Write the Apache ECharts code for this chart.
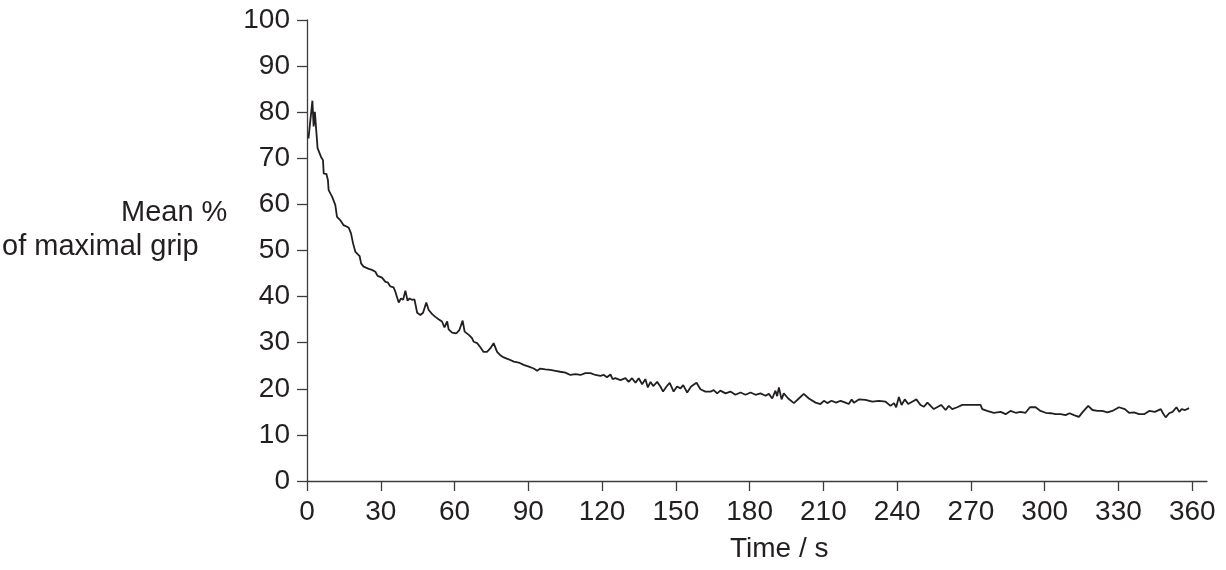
<!DOCTYPE html>
<html>
<head>
<meta charset="utf-8">
<script src="https://cdn.jsdelivr.net/npm/echarts@6/dist/echarts.min.js"></script>
<style>
html,body{margin:0;padding:0;background:#fff;}
#chart{width:1226px;height:570px;}
</style>
</head>
<body>
<div id="chart"></div>
<script>
const timeSec = [0.6,2.2,2.7,3.2,3.7,4.3,5.1,5.7,6.5,6.8,7.9,8.5,8.8,10.2,11.5,12.2,13.5,14.9,16.9,17.9,18.7,19.7,20.3,21.4,22.0,23.0,25.1,26.4,27.8,28.7,30.5,31.9,32.8,33.9,35.2,35.9,37.3,38.2,39.1,40.0,40.9,41.7,42.7,43.7,44.8,46.1,47.2,48.5,49.5,50.9,52.2,53.5,54.9,55.9,57.0,57.6,59.0,60.7,
62.0,63.3,64.1,65.8,67.1,67.8,69.2,70.5,71.8,73.2,74.6,75.9,77.3,78.6,80.0,82.0,84.1,86.1,88.1,90.2,92.2,93.6,94.9,96.9,99.0,101.0,103.0,105.1,107.1,109.2,111.2,113.2,115.3,117.3,119.3,120.7,122.0,123.4,124.3,
125.4,127.5,129.5,130.8,132.2,133.6,134.9,136.3,137.6,138.6,139.7,140.8,142.4,143.7,144.8,146.2,147.5,149.1,150.5,151.9,153.0,154.6,156.2,158.4,160.0,162.0,164.1,165.4,166.8,168.1,170.2,172.2,174.2,176.3,178.3,180.4,182.4,184.4,186.5,
187.8,189.2,190.5,191.2,191.9,193.0,193.9,195.7,198.0,200.0,202.0,204.1,206.8,208.8,210.2,211.6,213.3,215.2,217.0,219.0,220.3,221.5,222.4,224.4,227.1,229.9,232.6,235.3,237.3,238.7,239.6,240.7,241.8,243.1,244.5,246.1,247.8,249.5,
250.9,252.3,254.9,257.9,259.7,261.0,262.4,264.4,266.5,269.9,273.9,274.6,276.6,279.3,282.1,284.1,286.1,288.2,290.2,292.2,294.0,296.3,298.3,300.4,302.4,304.4,306.5,308.5,
310.1,311.9,313.9,315.5,317.7,319.4,321.4,323.4,325.5,327.5,330.2,332.6,334.3,336.3,338.4,340.4,342.5,344.8,347.2,348.1,349.2,350.6,352.0,353.6,354.7,355.7,357.1,358.7];

const gripPct = [74.3,82.5,76.9,80.1,76.5,72.2,71.8,70.3,69.6,66.7,66.6,65.3,63.1,61.7,59.9,57.3,56.6,55.5,55.0,53.7,51.6,49.7,49.4,48.8,47.2,46.5,46.0,45.8,45.4,44.5,44.1,43.2,43.1,42.2,42.0,41.1,38.7,39.6,39.3,41.3,39.1,39.6,39.3,39.4,36.5,36.0,36.5,38.7,37.1,36.2,35.6,35.1,34.6,33.3,34.6,32.9,32.2,32.0,
32.8,34.8,32.4,31.7,31.0,30.2,29.9,29.0,28.0,28.0,28.8,29.9,28.0,27.3,26.8,26.4,25.9,25.7,25.2,24.8,24.4,23.9,24.4,24.2,24.1,23.9,23.7,23.5,23.0,23.2,23.0,23.4,23.4,23.0,22.8,23.0,22.5,23.1,22.1,
22.3,21.9,22.3,21.5,22.3,21.3,22.3,21.0,22.1,20.3,21.5,20.6,21.5,20.5,19.4,20.5,21.3,19.4,20.5,20.1,20.8,19.2,20.5,21.3,19.9,19.4,19.4,19.7,19.0,19.6,19.0,19.4,18.7,19.2,18.7,19.2,18.7,19.0,18.5,
18.9,17.9,19.6,18.4,20.3,17.7,19.0,17.9,16.9,17.9,18.9,17.9,17.0,16.7,17.4,16.9,17.4,17.0,17.4,17.0,16.7,17.7,17.0,17.7,17.6,17.2,17.4,17.2,16.3,16.9,16.0,18.2,16.5,17.7,16.7,17.2,17.7,16.5,
16.1,17.0,15.6,16.5,15.4,16.3,15.6,16.0,16.5,16.5,16.5,15.6,15.2,14.8,15.0,14.5,15.2,14.8,15.0,14.8,16.0,16.0,15.2,14.8,14.7,14.5,14.5,14.3,
14.7,14.3,13.9,15.0,16.3,15.4,15.2,15.2,14.9,15.2,16.0,15.6,14.8,14.9,14.5,14.5,15.2,15.0,15.6,14.7,13.8,14.7,15.0,16.0,15.0,15.6,15.4,15.8];

const xTicks = [0,30,60,90,120,150,180,210,240,270,300,330,360];
const yTicks = [0,10,20,30,40,50,60,70,80,90,100];
const yTitleLines = ['Mean %', 'of maximal grip'];
const xTitle = 'Time / s';

const FONT = 'Liberation Sans, Arial, sans-serif';
const TXT = '#231f20';
const AX = '#3c3c3c';

const chart = echarts.init(document.getElementById('chart'), null, {renderer: 'canvas'});
chart.setOption({
  animation: false,
  backgroundColor: '#ffffff',
  grid: {left: 307, right: 19, top: 20, bottom: 89, containLabel: false},
  xAxis: {
    type: 'value', min: 0, max: 366,
    axisLine: {show: true, lineStyle: {color: AX, width: 1.3}},
    axisTick: {show: true, length: 10, lineStyle: {color: AX, width: 1.3}, customValues: xTicks},
    axisLabel: {fontSize: 28, color: TXT, fontFamily: FONT, margin: 17, customValues: xTicks},
    splitLine: {show: false}
  },
  yAxis: {
    type: 'value', min: 0, max: 100, interval: 10,
    axisLine: {show: true, lineStyle: {color: AX, width: 1.3}},
    axisTick: {show: true, length: 10, lineStyle: {color: AX, width: 1.3}, customValues: yTicks},
    axisLabel: {fontSize: 28, color: TXT, fontFamily: FONT, margin: 17, customValues: yTicks},
    splitLine: {show: false}
  },
  graphic: [
    {type: 'text', left: 121, top: 198, style: {text: yTitleLines[0], fill: TXT, font: '29px ' + FONT}},
    {type: 'text', left: 2, top: 232, style: {text: yTitleLines[1], fill: TXT, font: '29px ' + FONT}},
    {type: 'text', left: 730, top: 535, style: {text: xTitle, fill: TXT, font: '28px ' + FONT}}
  ],
  series: [{
    type: 'line',
    data: timeSec.map((t, i) => [t, gripPct[i]]),
    showSymbol: false,
    symbol: 'none',
    lineStyle: {color: '#231f20', width: 1.8},
    silent: true
  }]
});
</script>
</body>
</html>
